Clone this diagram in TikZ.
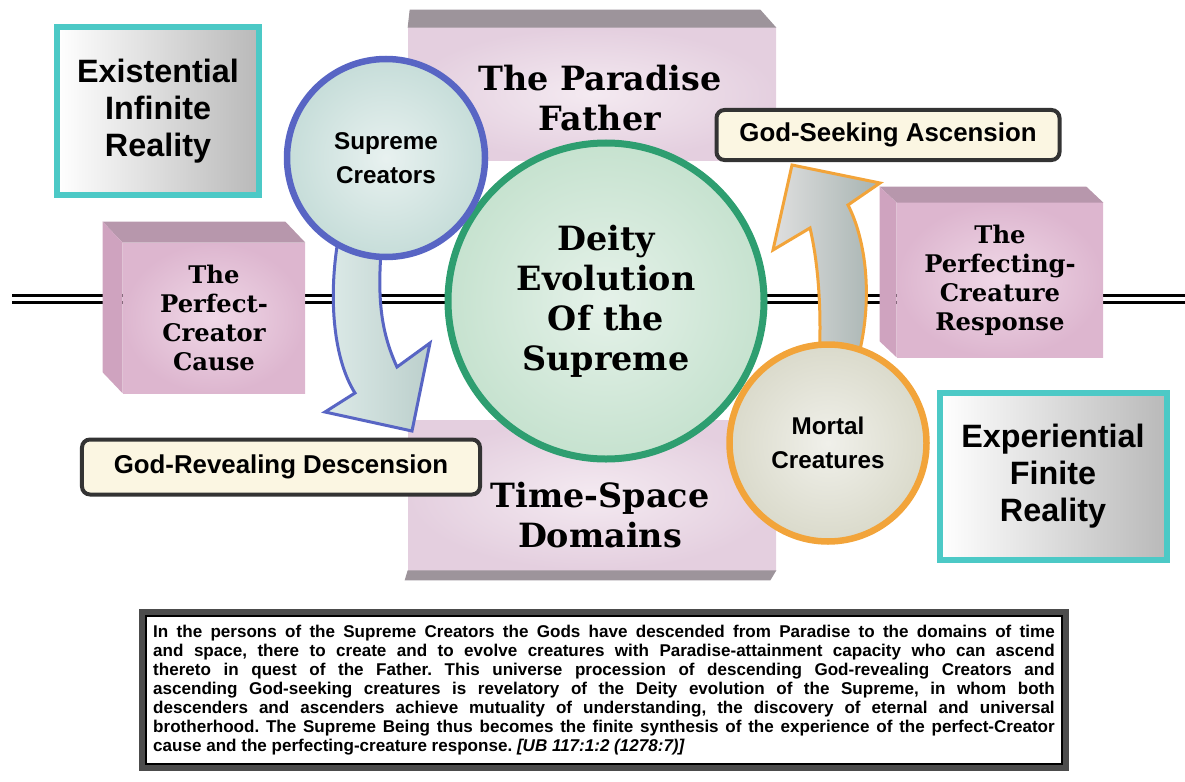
\documentclass[tikz,border=0pt]{standalone}
\usepackage{fontspec}
\setmainfont{Liberation Sans}
\newfontfamily\slabfont{DejaVu Serif}
\usetikzlibrary{positioning}

\definecolor{tealEdge}{HTML}{4CC9C6}
\definecolor{pinkFace}{HTML}{DDB6CF}
\definecolor{pinkLight}{HTML}{F0D8E7}
\definecolor{pinkTop}{HTML}{B797AC}
\definecolor{pinkSide}{HTML}{CFA3BF}
\definecolor{slabFace}{HTML}{E4CFDF}
\definecolor{slabLight}{HTML}{F4EAF1}
\definecolor{slabTop}{HTML}{9D949B}
\definecolor{blueRing}{HTML}{5865C4}
\definecolor{blueFill}{HTML}{C6DDD9}
\definecolor{greenRing}{HTML}{2E9E70}
\definecolor{greenFill}{HTML}{C6E2CF}
\definecolor{orangeRing}{HTML}{F2A43A}
\definecolor{mortalFill}{HTML}{DADACB}
\definecolor{labelFill}{HTML}{FBF6E2}

\tikzset{
    horizon/.style={draw=black, double=white, line width=0.6mm, double distance=0.8mm},
    reality/.style={draw=tealEdge, line width=1.2mm, left color=white, right color=gray!55,
        font=\bfseries\fontsize{18.4}{21}\selectfont, align=center},
    pinkfront/.style={inner color=pinkLight, outer color=pinkFace,
        font=\slabfont\bfseries\fontsize{13.8}{16.5}\selectfont, align=center},
    pinktop/.style={fill=pinkTop},
    pinkside/.style={fill=pinkSide},
    slab/.style={inner color=slabLight, outer color=slabFace},
    slabband/.style={fill=slabTop},
    slabtext/.style={font=\slabfont\bfseries\fontsize{19}{22.8}\selectfont, align=center},
    ring/.style={circle, line width=1.3mm, font=\bfseries\fontsize{13.8}{19}\selectfont, align=center},
    descend/.style={draw=blueRing, line width=0.6mm, left color=blueFill!60!white, right color=blueFill!85!gray},
    ascend/.style={draw=orangeRing, line width=0.6mm, left color=gray!25, right color=gray!45!blueFill},
    labelbox/.style={draw=black!80, line width=0.8mm, rounded corners=1.6mm, fill=labelFill,
        font=\bfseries\fontsize{14.7}{17}\selectfont},
    quote/.style={draw=black!70, line width=1.2mm, fill=white, text width=513pt, inner xsep=6.5pt,
        minimum height=31.2mm, align=justify, font=\bfseries\fontsize{9.7}{10.8}\selectfont\frenchspacing}
}

\begin{document}
\begin{tikzpicture}[x=0.2mm, y=-0.2mm]
    \useasboundingbox (0,0) rectangle (1185,782);

    % the double rule through the middle
    \coordinate (axisL) at (12,299);
    \coordinate (axisR) at (1185,299);
    \draw[horizon] (axisL) -- (axisR);

    % pink blocks on the rule
    \node[pinkfront, minimum width=36.4mm, minimum height=30mm] (cause) at (214,318) {The\\Perfect-\\Creator\\Cause};
    \fill[pinktop] (cause.north west) -- (cause.north east) -- ++(-20,-21) -- ([shift={(-20,-21)}]cause.north west) -- cycle;
    \fill[pinkside] (cause.north west) -- ([shift={(-20,-21)}]cause.north west) -- ([shift={(-20,-21)}]cause.south west) -- (cause.south west) -- cycle;

    \node[pinkfront, minimum width=41.2mm, minimum height=30.8mm] (response) at (1000,280) {The\\Perfecting-\\Creature\\Response};
    \fill[pinktop] (response.north west) -- (response.north east) -- ++(-17,-16) -- ([shift={(-17,-16)}]response.north west) -- cycle;
    \fill[pinkside] (response.north west) -- ([shift={(-17,-16)}]response.north west) -- ([shift={(-17,-16)}]response.south west) -- (response.south west) -- cycle;

    % upper and lower slabs
    \node[slab, minimum width=73.6mm, minimum height=26.4mm] (paradise) at (592,94) {};
    \fill[slabband] (paradise.north west) -- (paradise.north east) -- ++(-16,-18) -- ([shift={(2,-18)}]paradise.north west) -- cycle;
    \node[slabtext] (fatherText) at (600,98) {The Paradise\\Father};

    \node[slab, minimum width=73.6mm, minimum height=30mm] (domains) at (592,495) {};
    \fill[slabband] (domains.south west) -- (domains.south east) -- ++(-6,10) -- ([shift={(-3,10)}]domains.south west) -- cycle;
    \node[slabtext] (domainsText) at (600,515) {Time-Space\\Domains};

    % the two realities
    \node[reality, minimum width=40.2mm, minimum height=33.4mm] (existential) at (158,111) {Existential\\Infinite\\Reality};
    \node[reality, minimum width=45.4mm, minimum height=33.4mm] (experiential) at (1053,476) {Experiential\\Finite\\Reality};

    % curved block arrows
    \path[descend] (338,240) .. controls (328,300) and (334,360) .. (355,393) -- (325,412) -- (412,431)
        -- (430,343) -- (397,367) .. controls (380,330) and (377,295) .. (382,240) -- cycle;
    \path[ascend] (819,362) .. controls (822,310) and (818,262) .. (810,228) -- (773,250) -- (792,165)
        -- (880,183) -- (848,205) .. controls (866,240) and (874,300) .. (857,362) -- cycle;

    % circles
    \node[ring, draw=greenRing, line width=1.4mm, inner color=greenFill!45!white, outer color=greenFill,
        minimum size=63.2mm, font=\slabfont\bfseries\fontsize{19}{22.8}\selectfont] (deity) at (606,301) {Deity\\Evolution\\Of the\\Supreme};
    \node[ring, draw=blueRing, inner color=blueFill!40!white, outer color=blueFill, minimum size=39.6mm] (creators) at (386,158) {Supreme\\Creators};
    \node[ring, draw=orangeRing, inner color=mortalFill!40!white, outer color=mortalFill, minimum size=39.4mm] (mortals) at (828,443) {Mortal\\Creatures};

    % labels
    \node[labelbox, minimum width=79.6mm, minimum height=11mm] (descension) at (281,467) {God-Revealing Descension};
    \node[labelbox, minimum width=68.6mm, minimum height=10mm] (ascension) at (888,135) {God-Seeking Ascension};

    % quotation
    \node[quote] (quote) at (604,690) {%
        In the persons of the Supreme Creators the Gods have descended from Paradise to the domains of time\linebreak
        and space, there to create and to evolve creatures with Paradise-attainment capacity who can ascend\linebreak
        thereto in quest of the Father. This universe procession of descending God-revealing Creators and\linebreak
        ascending God-seeking creatures is revelatory of the Deity evolution of the Supreme, in whom both\linebreak
        descenders and ascenders achieve mutuality of understanding, the discovery of eternal and universal\linebreak
        brotherhood. The Supreme Being thus becomes the finite synthesis of the experience of the perfect-Creator\linebreak
        cause and the perfecting-creature response. \textit{[UB 117:1:2 (1278:7)]}};
    \draw[line width=0.3mm] ([shift={(7,7)}]quote.north west) rectangle ([shift={(-7,-7)}]quote.south east);
\end{tikzpicture}
\end{document}
